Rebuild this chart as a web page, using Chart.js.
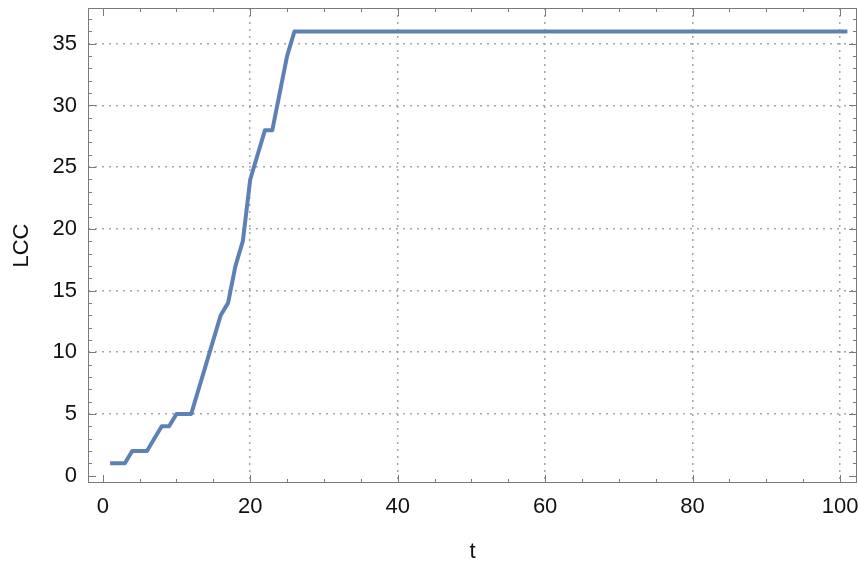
<!DOCTYPE html>
<html>
<head>
<meta charset="utf-8">
<script src="https://cdn.jsdelivr.net/npm/chart.js@4"></script>
<style>
  body { margin: 0; background: #fff; }
</style>
</head>
<body>
<canvas id="myChart" width="859" height="565"></canvas>
<script>
// data
const t = [1, 2, 3, 4, 5, 6, 7, 8, 9, 10,
  11, 12, 13, 14, 15, 16, 17, 18, 19, 20,
  21, 22, 23, 24, 25, 26, 27, 28, 29, 30,
  31, 32, 33, 34, 35, 36, 37, 38, 39, 40,
  41, 42, 43, 44, 45, 46, 47, 48, 49, 50,
  51, 52, 53, 54, 55, 56, 57, 58, 59, 60,
  61, 62, 63, 64, 65, 66, 67, 68, 69, 70,
  71, 72, 73, 74, 75, 76, 77, 78, 79, 80,
  81, 82, 83, 84, 85, 86, 87, 88, 89, 90,
  91, 92, 93, 94, 95, 96, 97, 98, 99, 100, 101];
const lcc = [1, 1, 1, 2, 2, 2, 3, 4, 4, 5,
  5, 5, 7, 9, 11, 13, 14, 17, 19, 24,
  26, 28, 28, 31, 34, 36, 36, 36, 36, 36,
  36, 36, 36, 36, 36, 36, 36, 36, 36, 36,
  36, 36, 36, 36, 36, 36, 36, 36, 36, 36,
  36, 36, 36, 36, 36, 36, 36, 36, 36, 36,
  36, 36, 36, 36, 36, 36, 36, 36, 36, 36,
  36, 36, 36, 36, 36, 36, 36, 36, 36, 36,
  36, 36, 36, 36, 36, 36, 36, 36, 36, 36,
  36, 36, 36, 36, 36, 36, 36, 36, 36, 36, 36];
const xTicks = [0, 20, 40, 60, 80, 100];
const yTicks = [0, 5, 10, 15, 20, 25, 30, 35];

const FONT = '"Liberation Sans", Arial, Helvetica, sans-serif';

// frame + inward ticks like Mathematica
const frameTicks = {
  id: 'frameTicks',
  afterDraw(chart) {
    const c = chart.ctx;
    const a = chart.chartArea;
    const xs = chart.scales.x, ys = chart.scales.y;
    c.save();
    c.strokeStyle = '#7a7a7a';
    c.lineWidth = 1;
    c.strokeRect(a.left + 0.5, a.top + 0.5, a.right - a.left - 1, a.bottom - a.top - 1);
    c.beginPath();
    for (let v = 0; v <= 100; v += 5) {
      const px = Math.round(xs.getPixelForValue(v)) + 0.5;
      const len = v % 20 === 0 ? 8 : 4;
      c.moveTo(px, a.bottom); c.lineTo(px, a.bottom - len);
      c.moveTo(px, a.top); c.lineTo(px, a.top + len);
    }
    for (let v = 0; v <= 37; v += 1) {
      const py = Math.round(ys.getPixelForValue(v)) + 0.5;
      const len = v % 5 === 0 ? 8 : 4;
      c.moveTo(a.left, py); c.lineTo(a.left + len, py);
      c.moveTo(a.right, py); c.lineTo(a.right - len, py);
    }
    c.stroke();
    c.restore();
  }
};

const gridColor = (ctx) => (ctx.tick && ctx.tick.value === 0) ? 'rgba(0,0,0,0)' : '#a6a6a6';

new Chart(document.getElementById('myChart'), {
  type: 'line',
  data: {
    datasets: [{
      label: 'LCC',
      data: t.map((x, i) => ({ x: x, y: lcc[i] })),
      borderColor: '#5e81b5',
      borderWidth: 4,
      pointRadius: 0,
      tension: 0,
      fill: false,
      borderJoinStyle: 'round'
    }]
  },
  options: {
    responsive: false,
    animation: false,
    layout: { padding: { top: 8, right: 2, left: 0, bottom: 0 } },
    plugins: { legend: { display: false }, tooltip: { enabled: false } },
    scales: {
      x: {
        type: 'linear',
        min: -2.0,
        max: 102.3,
        afterBuildTicks: (s) => { s.ticks = xTicks.map(v => ({ value: v })); },
        afterFit: (s) => { s.height = 82; s.paddingLeft = 0; s.paddingRight = 0; },
        grid: { color: gridColor, lineWidth: 1.5, drawTicks: false },
        border: { display: false, dash: [2, 5] },
        ticks: { color: '#111', font: { family: FONT, size: 22 }, padding: 11, maxRotation: 0 },
        title: { display: true, text: 't', color: '#111', font: { family: FONT, size: 22 }, padding: { top: 0, bottom: 0 } }
      },
      y: {
        min: -0.6,
        max: 37.9,
        afterBuildTicks: (s) => { s.ticks = yTicks.map(v => ({ value: v })); },
        afterFit: (s) => { s.width = 88; s.paddingTop = 0; s.paddingBottom = 0; },
        grid: { color: gridColor, lineWidth: 1.5, drawTicks: false },
        border: { display: false, dash: [2, 5] },
        ticks: { color: '#111', font: { family: FONT, size: 22 }, padding: 11 },
        title: { display: true, text: 'LCC', color: '#111', font: { family: FONT, size: 22 }, padding: { top: 9, bottom: 0 } }
      }
    }
  },
  plugins: [frameTicks]
});
</script>
</body>
</html>
